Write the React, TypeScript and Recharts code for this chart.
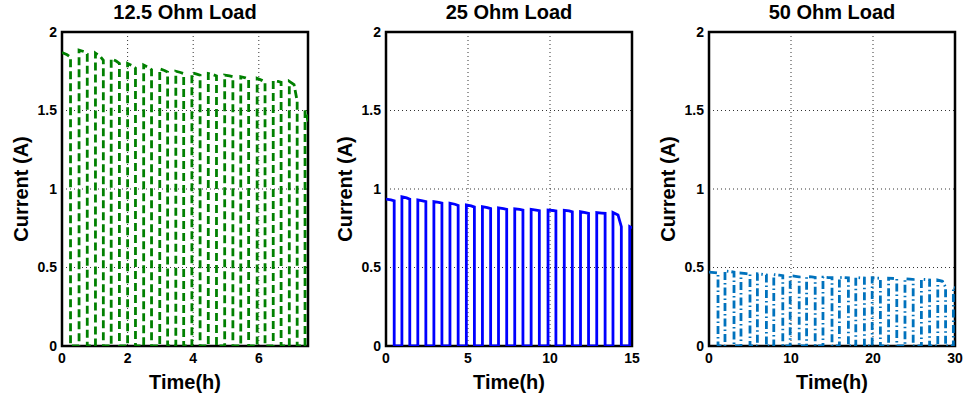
import {
  CartesianGrid,
  Label,
  Line,
  LineChart,
  ReferenceArea,
  XAxis,
  YAxis,
} from "recharts";

// pulse start / end times (h) and current levels (A)
const t12Start = [0, 0.52, 1.02, 1.5, 2.0, 2.49, 2.98, 3.47, 3.96, 4.46, 4.96, 5.45, 5.95, 6.44, 6.93, 7.41];
const t12End = [0.26, 0.77, 1.26, 1.75, 2.24, 2.73, 3.22, 3.71, 4.21, 4.71, 5.21, 5.69, 6.19, 6.68, 7.17, 7.5];
const i12Start = [1.87, 1.885, 1.865, 1.83, 1.8, 1.79, 1.765, 1.75, 1.74, 1.735, 1.725, 1.715, 1.705, 1.69, 1.685, 1.5];
const i12Mid = [1.855, 1.875, 1.845, 1.815, 1.785, 1.775, 1.755, 1.742, 1.732, 1.728, 1.72, 1.708, 1.692, 1.685, 1.665, 1.47];
const i12End = [1.84, 1.86, 1.82, 1.8, 1.77, 1.76, 1.745, 1.735, 1.725, 1.72, 1.715, 1.7, 1.68, 1.68, 1.56, 1.43];

const t25Start = [0, 0.97, 1.94, 2.92, 3.9, 4.9, 5.88, 6.86, 7.85, 8.85, 9.88, 10.87, 11.86, 12.85, 13.84, 14.86];
const t25End = [0.5, 1.45, 2.43, 3.41, 4.4, 5.39, 6.38, 7.36, 8.35, 9.35, 10.36, 11.36, 12.35, 13.36, 14.35, 15];
const i25Start = [0.935, 0.95, 0.93, 0.92, 0.91, 0.898, 0.887, 0.88, 0.874, 0.87, 0.866, 0.864, 0.855, 0.85, 0.85, 0.76];
const i25Mid = [0.93, 0.943, 0.925, 0.915, 0.903, 0.892, 0.881, 0.875, 0.87, 0.866, 0.863, 0.86, 0.85, 0.847, 0.835, 0.755];
const i25End = [0.925, 0.935, 0.92, 0.91, 0.895, 0.885, 0.875, 0.87, 0.866, 0.862, 0.86, 0.855, 0.845, 0.845, 0.76, 0.75];

const t50Start = [0, 1.95, 3.9, 5.9, 7.9, 9.9, 11.9, 13.9, 15.9, 17.9, 19.9, 21.9, 23.9, 25.9, 27.9, 29.8];
const t50End = [1.1, 3.05, 5.0, 7.0, 9.0, 11.0, 12.95, 15.0, 17.0, 18.95, 20.9, 22.9, 24.9, 26.9, 28.85, 30];
const i50Start = [0.47, 0.478, 0.465, 0.46, 0.455, 0.448, 0.442, 0.438, 0.437, 0.436, 0.434, 0.432, 0.428, 0.425, 0.42, 0.375];
const i50Mid = [0.468, 0.474, 0.461, 0.456, 0.451, 0.444, 0.44, 0.436, 0.435, 0.434, 0.432, 0.43, 0.426, 0.423, 0.412, 0.372];
const i50End = [0.465, 0.47, 0.458, 0.452, 0.448, 0.44, 0.437, 0.435, 0.434, 0.433, 0.431, 0.428, 0.424, 0.42, 0.375, 0.37];

const yTicks = [0, 0.5, 1, 1.5, 2];
const xTicks12 = [0, 2, 4, 6];
const xTicks25 = [0, 5, 10, 15];
const xTicks50 = [0, 10, 20, 30];

type Pt = { t: number; a: number };

function buildPulses(starts: number[], ends: number[], hi: number[], mid: number[], lo: number[]): Pt[] {
  const pts: Pt[] = [];
  starts.forEach((s, i) => {
    const e = ends[i];
    if (i > 0) pts.push({ t: s, a: 0 });
    pts.push({ t: s, a: hi[i] });
    pts.push({ t: s + (e - s) * 0.6, a: mid[i] });
    pts.push({ t: e, a: lo[i] });
    if (i < starts.length - 1) pts.push({ t: e, a: 0 });
  });
  return pts;
}

const font = "'Liberation Sans', Arial, sans-serif";

type PanelProps = {
  left: number;
  title: string;
  data: Pt[];
  xMax: number;
  xTicks: number[];
  color: string;
  dash?: string;
};

function Panel({ left, title, data, xMax, xTicks, color, dash }: PanelProps) {
  const tickStyle = { fill: "#000", fontSize: 14, fontWeight: 700, fontFamily: font };
  return (
    <div style={{ position: "absolute", left, top: 0 }}>
      <LineChart
        width={320}
        height={401}
        data={data}
        margin={{ top: 32, right: 12, bottom: 0, left: 0 }}
      >
        <CartesianGrid stroke="#333" strokeDasharray="1 3" />
        <XAxis
          dataKey="t"
          type="number"
          domain={[0, xMax]}
          ticks={xTicks}
          allowDataOverflow
          axisLine={false}
          tickLine={false}
          tickSize={0}
          tickMargin={7}
          height={55}
          tick={tickStyle}
        >
          <Label
            value="Time(h)"
            position="center"
            dy={8}
            style={{ fill: "#000", fontSize: 20, fontWeight: 700, fontFamily: font }}
          />
        </XAxis>
        <YAxis
          type="number"
          domain={[0, 2]}
          ticks={yTicks}
          allowDataOverflow
          axisLine={false}
          tickLine={false}
          tickSize={0}
          tickMargin={5}
          width={62}
          tick={tickStyle}
        >
          <Label
            value="Current (A)"
            angle={-90}
            position="center"
            dx={-10}
            style={{ fill: "#000", fontSize: 20, fontWeight: 700, fontFamily: font }}
          />
        </YAxis>
        <Line
          dataKey="a"
          type="linear"
          stroke={color}
          strokeWidth={2.8}
          strokeDasharray={dash}
          dot={false}
          isAnimationActive={false}
        />
        <ReferenceArea
          x1={0}
          x2={xMax}
          y1={0}
          y2={2}
          fill="none"
          fillOpacity={0}
          stroke="#000"
          strokeWidth={2.5}
        >
          <Label
            value={title}
            position="top"
            offset={13}
            style={{ fill: "#000", fontSize: 20, fontWeight: 700, fontFamily: font }}
          />
        </ReferenceArea>
      </LineChart>
    </div>
  );
}

export default function App() {
  return (
    <div style={{ position: "absolute", left: 0, top: 0, width: 968, height: 401, background: "#fff" }}>
      <Panel
        left={0}
        title="12.5 Ohm Load"
        data={buildPulses(t12Start, t12End, i12Start, i12Mid, i12End)}
        xMax={7.5}
        xTicks={xTicks12}
        color="#008000"
        dash="8 4"
      />
      <Panel
        left={324}
        title="25 Ohm Load"
        data={buildPulses(t25Start, t25End, i25Start, i25Mid, i25End)}
        xMax={15}
        xTicks={xTicks25}
        color="#0000ff"
      />
      <Panel
        left={647}
        title="50 Ohm Load"
        data={buildPulses(t50Start, t50End, i50Start, i50Mid, i50End)}
        xMax={30}
        xTicks={xTicks50}
        color="#0072bd"
        dash="8 3 1.5 3"
      />
    </div>
  );
}
